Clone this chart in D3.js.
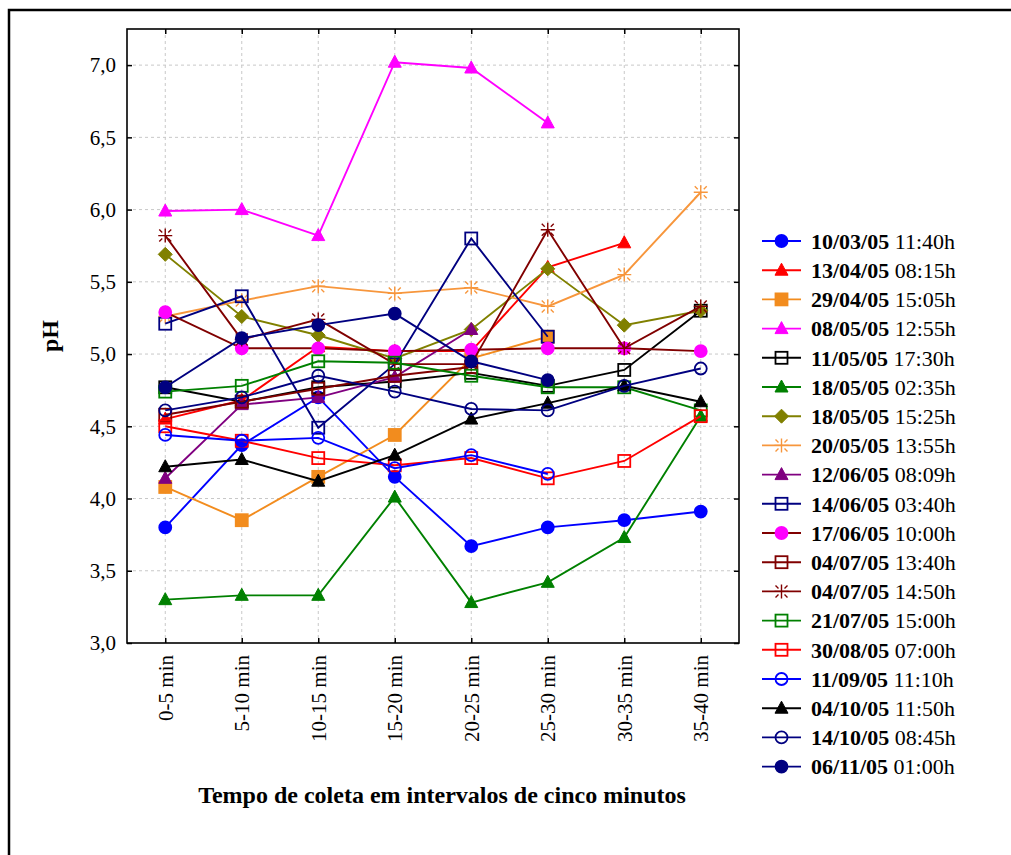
<!DOCTYPE html>
<html>
<head>
<meta charset="utf-8">
<script src="https://cdn.jsdelivr.net/npm/d3@7"></script>
<style>
  body { margin: 0; background: #fff; }
  svg text { font-family: "Liberation Serif", "Times New Roman", serif; }
</style>
</head>
<body>
<div class="chart"></div>
<script>
var categories = ['0-5 min', '5-10 min', '10-15 min', '15-20 min', '20-25 min', '25-30 min', '30-35 min', '35-40 min']
var yTicks = [3.0, 3.5, 4.0, 4.5, 5.0, 5.5, 6.0, 6.5, 7.0]

var dates = ['10/03/05', '13/04/05', '29/04/05', '08/05/05', '11/05/05', '18/05/05', '18/05/05', '20/05/05', '12/06/05', '14/06/05',
  '17/06/05', '04/07/05', '04/07/05', '21/07/05', '30/08/05', '11/09/05', '04/10/05', '14/10/05', '06/11/05']
var times = ['11:40h', '08:15h', '15:05h', '12:55h', '17:30h', '02:35h', '15:25h', '13:55h', '08:09h', '03:40h',
  '10:00h', '13:40h', '14:50h', '15:00h', '07:00h', '11:10h', '11:50h', '08:45h', '01:00h']

// pH per interval, null = no reading
var ph100305 = [3.80, 4.37, 4.70, 4.15, 3.67, 3.80, 3.85, 3.91]
var ph130405 = [4.55, 4.68, 5.05, 5.02, 5.02, 5.60, 5.77, null]
var ph290405 = [4.08, 3.85, 4.15, 4.44, 4.97, 5.12, null, null]
var ph080505 = [5.99, 6.00, 5.82, 7.02, 6.98, 6.60, null, null]
var ph110505 = [4.77, 4.67, 4.77, 4.81, 4.87, 4.78, 4.89, 5.30]
var ph180505a = [3.30, 3.33, 3.33, 4.01, 3.28, 3.42, 3.73, 4.57]
var ph180505b = [5.69, 5.26, 5.13, 4.97, 5.17, 5.59, 5.20, 5.30]
var ph200505 = [5.26, 5.37, 5.47, 5.42, 5.46, 5.33, 5.55, 6.12]
var ph120605 = [4.14, 4.65, 4.70, 4.84, 5.17, null, null, null]
var ph140605 = [5.21, 5.40, 4.49, 4.93, 5.80, 5.12, null, null]
var ph170605 = [5.29, 5.04, 5.04, 5.02, 5.03, 5.04, 5.04, 5.02]
var ph040705a = [4.58, 4.67, 4.76, 4.85, 4.91, null, null, null]
var ph040705b = [5.82, 5.10, 5.24, 4.93, 4.93, 5.86, 5.04, 5.33]
var ph210705 = [4.74, 4.78, 4.95, 4.94, 4.85, 4.77, 4.77, 4.61]
var ph300805 = [4.50, 4.40, 4.28, 4.23, 4.28, 4.14, 4.26, 4.57]
var ph110905 = [4.44, 4.40, 4.42, 4.21, 4.30, 4.17, null, null]
var ph041005 = [4.22, 4.27, 4.12, 4.30, 4.55, 4.66, 4.78, 4.67]
var ph141005 = [4.61, 4.70, 4.85, 4.74, 4.62, 4.61, 4.78, 4.90]
var ph061105 = [4.77, 5.11, 5.20, 5.28, 4.95, 4.82, null, null]

var allValues = [ph100305, ph130405, ph290405, ph080505, ph110505, ph180505a, ph180505b, ph200505, ph120605, ph140605,
  ph170605, ph040705a, ph040705b, ph210705, ph300805, ph110905, ph041005, ph141005, ph061105]

// styling, kept apart from the values
var lineColors = ['#0000ff', '#ff0000', '#f28c1e', '#ff00ff', '#000000', '#008000', '#808000', '#f7963c', '#800080', '#000080',
  '#800000', '#800000', '#800000', '#008000', '#ff0000', '#0000ff', '#000000', '#000080', '#000080']
var markerFills = ['#0000ff', '#ff0000', '#f28c1e', '#ff00ff', 'none', '#008000', '#808000', 'none', '#800080', 'none',
  '#ff00ff', 'none', 'none', 'none', 'none', 'none', '#000000', 'none', '#000080']
var markerKinds = ['circle', 'triangle', 'square', 'triangle', 'square', 'triangle', 'diamond', 'star', 'triangle', 'square',
  'circle', 'square', 'star', 'square', 'square', 'circle', 'triangle', 'circle', 'circle']

var series = allValues.map((values, i) => ({
  values, date: dates[i], time: times[i],
  color: lineColors[i], fill: markerFills[i], kind: markerKinds[i]
}))

var width = 1011, height = 855
var svg = d3.select('.chart').append('svg').attr('width', width).attr('height', height)

// frame of the figure (left + top edges show)
svg.append('path').attr('d', 'M 9 855 V 10 H 1011').attr('fill', 'none').attr('stroke', '#000').attr('stroke-width', 2.5)

var box = {left: 127, right: 739, top: 29, bottom: 643}

var x = d3.scalePoint().domain(categories).range([box.left, box.right]).padding(0.5)
var y = d3.scaleLinear().domain([3, 7.25]).range([box.bottom, box.top])

// grid
var grid = svg.append('g').attr('stroke', '#c8c8c8').attr('stroke-width', 1).attr('stroke-dasharray', '3,3')
grid.selectAll('line.v').data(categories).join('line')
  .attr('x1', d => x(d)).attr('x2', d => x(d)).attr('y1', box.top).attr('y2', box.bottom)
grid.selectAll('line.h').data(yTicks.slice(1)).join('line')
  .attr('x1', box.left).attr('x2', box.right).attr('y1', d => y(d)).attr('y2', d => y(d))

var fmt = d => d.toFixed(1).replace('.', ',')

var yAxis = svg.append('g').attr('transform', `translate(${box.left},0)`)
  .call(d3.axisLeft(y).tickValues(yTicks).tickSize(-5).tickPadding(11).tickFormat(fmt))
yAxis.selectAll('text').attr('font-size', 21).attr('fill', '#000')

var yAxisR = svg.append('g').attr('transform', `translate(${box.right},0)`)
  .call(d3.axisRight(y).tickValues(yTicks).tickSize(-5).tickFormat(''))

var xAxis = svg.append('g').attr('transform', `translate(0,${box.bottom})`)
  .call(d3.axisBottom(x).tickSize(-5).tickFormat(''))
svg.append('g').attr('transform', `translate(0,${box.top})`)
  .call(d3.axisTop(x).tickSize(-5).tickFormat(''))

svg.selectAll('.domain').remove()
svg.selectAll('.tick line').attr('stroke', '#000').attr('stroke-width', 1.5)

svg.append('rect')
  .attr('x', box.left).attr('y', box.top)
  .attr('width', box.right - box.left).attr('height', box.bottom - box.top)
  .attr('fill', 'none').attr('stroke', '#000').attr('stroke-width', 1.6)

svg.append('g').selectAll('text').data(categories).join('text')
  .attr('transform', d => `translate(${x(d)},${box.bottom + 12}) rotate(-90)`)
  .attr('text-anchor', 'end').attr('dy', '0.35em').attr('font-size', 21)
  .text(d => d)

svg.append('text')
  .attr('transform', `translate(58,${(box.top + box.bottom) / 2}) rotate(-90)`)
  .attr('text-anchor', 'middle').attr('font-size', 24).attr('font-weight', 'bold')
  .text('pH')

svg.append('text')
  .attr('x', 442).attr('y', 803).attr('text-anchor', 'middle')
  .attr('font-size', 24).attr('font-weight', 'bold')
  .text('Tempo de coleta em intervalos de cinco minutos')

function drawMarker(sel, s){
  var c = s.color, f = s.fill
  if (s.kind == 'circle'){
    sel.append('circle').attr('r', 6)
      .attr('fill', f == 'none' ? '#fff' : f).attr('fill-opacity', f == 'none' ? 0 : 1)
      .attr('stroke', f == 'none' ? c : f).attr('stroke-width', 1.8)
  } else if (s.kind == 'square'){
    sel.append('rect').attr('x', -6).attr('y', -6).attr('width', 12).attr('height', 12)
      .attr('fill', f).attr('stroke', f == 'none' ? c : f).attr('stroke-width', 1.8)
  } else if (s.kind == 'triangle'){
    sel.append('path').attr('d', 'M0,-7 L6.5,5 L-6.5,5 Z').attr('fill', f).attr('stroke', f).attr('stroke-width', 1)
  } else if (s.kind == 'diamond'){
    sel.append('path').attr('d', 'M0,-7 L7,0 L0,7 L-7,0 Z').attr('fill', f).attr('stroke', f).attr('stroke-width', 1)
  } else if (s.kind == 'star'){
    sel.append('path')
      .attr('d', 'M0,-7V7M-7,0H7M-6,-6L-3,-3M3,3L6,6M6,-6L3,-3M-3,3L-6,6')
      .attr('fill', 'none').attr('stroke', c).attr('stroke-width', 1.4)
  }
}

var line = d3.line()
  .defined(d => d.v != null)
  .x(d => x(d.cat)).y(d => y(d.v))

var plot = svg.append('g')
series.forEach(s => {
  var pts = s.values.map((v, i) => ({cat: categories[i], v}))
  var g = plot.append('g')
  g.append('path').datum(pts).attr('d', line)
    .attr('fill', 'none').attr('stroke', s.color).attr('stroke-width', 1.9)
  g.selectAll('g.m').data(pts.filter(d => d.v != null)).join('g')
    .attr('transform', d => `translate(${x(d.cat)},${y(d.v)})`)
    .each(function(){ drawMarker(d3.select(this), s) })
})

// legend
var legend = svg.append('g')
var rows = legend.selectAll('g').data(series).join('g')
  .attr('transform', (d, i) => `translate(762,${241 + i * 29.2})`)
rows.append('line').attr('x1', 0).attr('x2', 39)
  .attr('stroke', d => d.color).attr('stroke-width', 1.9)
rows.append('g').attr('transform', 'translate(19.5,0)').each(function(d){ drawMarker(d3.select(this), d) })
var lt = rows.append('text').attr('x', 49).attr('dy', '0.35em').attr('font-size', 22)
lt.append('tspan').attr('font-weight', 'bold').text(d => d.date)
lt.append('tspan').text(d => ' ' + d.time)
</script>
</body>
</html>
